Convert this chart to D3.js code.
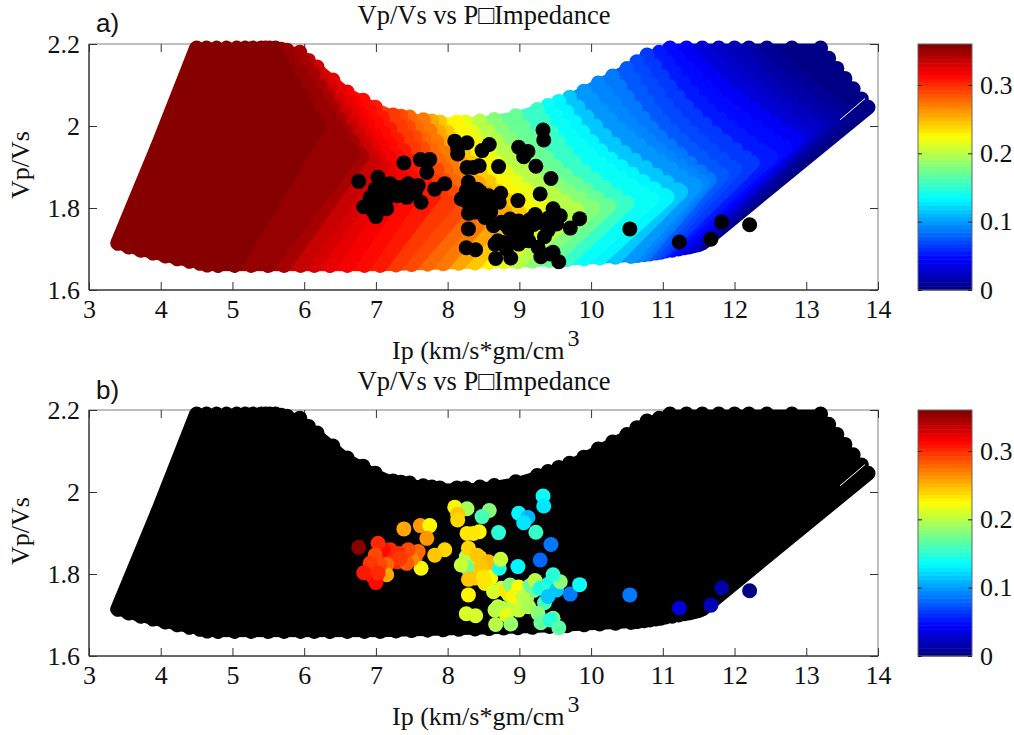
<!DOCTYPE html>
<html>
  <head>
    <meta charset="utf-8">
    <style>
      body { margin: 0; background: #fff; }
      svg { display: block; }
      text { font-family: "Liberation Serif", serif; fill: #111; }
      .domain { display: none; }
      .panel-tag { font-family: "Liberation Sans", sans-serif; }
    </style>
  </head>
  <body>
    <div id="chart"></div>
    <script src="https://d3js.org/d3.v7.min.js"></script>
    <script>
      var width = 1014, height = 735;

      var xTicks = [3, 4, 5, 6, 7, 8, 9, 10, 11, 12, 13, 14];
      var yTicks = [1.6, 1.8, 2, 2.2];
      var yTickLabels = ["1.6", "1.8", "2", "2.2"];
      var barTicks = [0, 0.1, 0.2, 0.3];
      var barTickLabels = ["0", "0.1", "0.2", "0.3"];
      var panelTags = ["a)", "b)"];

      // template cloud, one row per iso-porosity line
      var linePhi = [0, 0.003, 0.008, 0.014, 0.02, 0.026, 0.033, 0.04, 0.047, 0.055, 0.0625, 0.07, 0.0775, 0.085, 0.0925, 0.1, 0.115, 0.13, 0.14, 0.155, 0.17, 0.185, 0.2, 0.215, 0.23, 0.245, 0.258, 0.27, 0.28, 0.289, 0.296, 0.304, 0.311, 0.318, 0.325, 0.331, 0.337, 0.344, 0.349, 0.353, 0.357, 0.36, 0.36, 0.36, 0.36, 0.36, 0.36, 0.36, 0.36, 0.36, 0.36];
      var bottomIp = [11.55, 11.53, 11.5, 11.46, 11.41, 11.36, 11.3, 11.22, 11.13, 11.04, 10.97, 10.9, 10.82, 10.74, 10.65, 10.56, 10.34, 10.12, 9.9, 9.66, 9.42, 9.18, 8.98, 8.78, 8.58, 8.38, 8.16, 7.94, 7.72, 7.5, 7.28, 7.06, 6.84, 6.6, 6.36, 6.14, 5.95, 5.72, 5.5, 5.26, 5.03, 4.8, 4.65, 4.55, 4.4, 4.23, 4.06, 3.89, 3.72, 3.55, 3.4];
      var bottomVs = [1.715, 1.713, 1.711, 1.709, 1.707, 1.705, 1.703, 1.7, 1.697, 1.695, 1.692, 1.69, 1.688, 1.686, 1.684, 1.682, 1.68, 1.678, 1.676, 1.674, 1.672, 1.67, 1.669, 1.668, 1.667, 1.666, 1.665, 1.664, 1.663, 1.662, 1.661, 1.66, 1.66, 1.66, 1.66, 1.66, 1.66, 1.66, 1.66, 1.66, 1.66, 1.66, 1.661, 1.665, 1.67, 1.676, 1.683, 1.69, 1.697, 1.705, 1.714];
      var kneeIp = [13.86, 13.72, 13.55, 13.38, 13.23, 13.12, 13, 12.87, 12.7, 12.5, 12.25, 12, 11.82, 11.65, 11.55, 11.45, 11.25, 11.06, 10.85, 10.5, 10.25, 10.03, 9.8, 9.45, 9.2, 9, 8.8, 8.58, 8.38, 8.2, 8, 7.8, 7.58, 7.4, 7.2, 7.07, 6.95, 6.8, 6.68, 6.45, 6.2, 5.98, 5.7, 5.45, 5.2, 4.95, 4.75, 4.55, 4.35, 4.15, 3.96];
      var kneeVs = [2.046, 2.04, 2.03, 2.02, 2.007, 1.995, 1.98, 1.968, 1.948, 1.925, 1.91, 1.895, 1.882, 1.87, 1.862, 1.855, 1.84, 1.827, 1.822, 1.812, 1.805, 1.8, 1.795, 1.792, 1.79, 1.79, 1.79, 1.792, 1.797, 1.803, 1.812, 1.83, 1.85, 1.865, 1.885, 1.895, 1.91, 1.925, 1.934, 1.965, 2, 2.02, 2.01, 2, 1.985, 1.97, 1.96, 1.955, 1.95, 1.95, 1.95];
      var midIp = [13.53, 13.2, 12.97, 12.75, 12.53, 12.37, 12.2, 12.01, 11.8, 11.58, 11.38, 11.16, 10.99, 10.83, 10.67, 10.52, 10.32, 10.12, 9.95, 9.75, 9.48, 9.24, 9.04, 8.78, 8.62, 8.4, 8.25, 8.09, 7.91, 7.78, 7.62, 7.4, 7.2, 7, 6.8, 6.63, 6.5, 6.37, 6.22, 6.07, 5.9, 5.75, 5.58, 5.42, 5.25, 5.06, 4.9, 4.73, 4.56, 4.4, 4.23];
      var midVs = [2.118, 2.118, 2.113, 2.103, 2.098, 2.088, 2.08, 2.074, 2.063, 2.05, 2.038, 2.028, 2.013, 1.998, 1.986, 1.974, 1.956, 1.942, 1.935, 1.915, 1.905, 1.9, 1.896, 1.895, 1.895, 1.897, 1.898, 1.9, 1.908, 1.913, 1.92, 1.938, 1.956, 1.974, 1.998, 2.02, 2.035, 2.052, 2.06, 2.076, 2.095, 2.105, 2.1, 2.095, 2.088, 2.08, 2.075, 2.072, 2.07, 2.07, 2.07];
      var topIp = [13.2, 12.8, 12.45, 12.2, 12, 11.78, 11.55, 11.33, 11.1, 10.95, 10.78, 10.64, 10.5, 10.3, 10.1, 9.9, 9.7, 9.55, 9.4, 9.25, 8.95, 8.65, 8.45, 8.25, 8.13, 7.89, 7.78, 7.66, 7.47, 7.35, 7.24, 6.99, 6.82, 6.6, 6.4, 6.18, 6.06, 5.94, 5.76, 5.68, 5.6, 5.52, 5.46, 5.4, 5.29, 5.18, 5.06, 4.92, 4.78, 4.64, 4.5];
      var topVs = [2.19, 2.19, 2.19, 2.19, 2.19, 2.19, 2.19, 2.19, 2.19, 2.18, 2.173, 2.157, 2.14, 2.122, 2.105, 2.085, 2.07, 2.06, 2.05, 2.04, 2.025, 2.016, 2.012, 2.01, 2.01, 2.01, 2.012, 2.015, 2.022, 2.024, 2.027, 2.046, 2.063, 2.083, 2.112, 2.144, 2.16, 2.18, 2.185, 2.187, 2.19, 2.19, 2.19, 2.19, 2.19, 2.19, 2.19, 2.19, 2.19, 2.19, 2.19];

      // thin white slit near the right tip of the cloud
      var slitIp = [13.47, 13.82];
      var slitVs = [2.015, 2.067];

      // well log samples
      var wellIp = [7.05, 7.12, 7.22, 7.3, 7.38, 7, 7.1, 6.95, 7.55, 7.25, 8.3, 8.4, 8.45, 8.35, 8.55, 8.6, 8.75, 8.85, 9, 9.1, 8.7, 8.9, 9.05, 9.4, 9.5, 9.2, 9.35, 6.76, 7.39, 7.62, 7.75, 7.71, 7.96, 7.82, 7.63, 7.59, 7.5, 7.43, 7.45, 7.31, 7.2, 7.1, 7.03, 6.99, 7.15, 7.15, 7.06, 6.92, 6.83, 7, 7.03, 7.34, 8.1, 8.27, 8.14, 8.14, 8.58, 8.48, 8.27, 8.44, 8.36, 8.26, 8.27, 8.19, 8.29, 8.41, 8.57, 8.47, 8.72, 8.74, 8.71, 8.29, 8.38, 8.5, 8.52, 8.64, 8.29, 8.81, 8.87, 8.99, 8.92, 9.05, 9.15, 9.22, 9.29, 9.38, 9.4, 9.52, 9.71, 9.84, 9.57, 9.47, 8.98, 9.29, 9.44, 9.23, 8.99, 9.12, 9.06, 9.33, 9.34, 8.26, 8.39, 8.66, 8.78, 8.82, 8.67, 8.88, 8.99, 9.13, 9.26, 9.3, 9.47, 9.43, 9.55, 10.54, 11.23, 11.67, 11.82, 12.21];
      var wellVs = [1.845, 1.84, 1.835, 1.83, 1.85, 1.815, 1.81, 1.795, 1.84, 1.845, 1.81, 1.795, 1.84, 1.83, 1.81, 1.79, 1.765, 1.75, 1.75, 1.74, 1.72, 1.72, 1.72, 1.775, 1.775, 1.76, 1.73, 1.865, 1.91, 1.918, 1.918, 1.887, 1.859, 1.846, 1.814, 1.855, 1.836, 1.826, 1.859, 1.85, 1.859, 1.859, 1.875, 1.846, 1.822, 1.798, 1.822, 1.826, 1.803, 1.779, 1.802, 1.838, 1.963, 1.959, 1.946, 1.932, 1.955, 1.94, 1.899, 1.903, 1.899, 1.842, 1.816, 1.822, 1.863, 1.846, 1.83, 1.818, 1.814, 1.836, 1.901, 1.787, 1.79, 1.792, 1.777, 1.757, 1.749, 1.759, 1.773, 1.768, 1.745, 1.743, 1.772, 1.784, 1.765, 1.761, 1.745, 1.761, 1.751, 1.774, 1.781, 1.798, 1.818, 1.834, 1.872, 1.902, 1.948, 1.938, 1.925, 1.99, 1.966, 1.703, 1.698, 1.712, 1.716, 1.7, 1.677, 1.678, 1.712, 1.72, 1.704, 1.681, 1.692, 1.688, 1.669, 1.749, 1.717, 1.724, 1.766, 1.759];
      var wellPhi = [0.3, 0.295, 0.29, 0.3, 0.3, 0.305, 0.295, 0.305, 0.285, 0.29, 0.24, 0.24, 0.24, 0.235, 0.24, 0.22, 0.21, 0.2, 0.2, 0.195, 0.205, 0.2, 0.2, 0.14, 0.13, 0.17, 0.16, 0.36, 0.255, 0.26, 0.23, 0.26, 0.24, 0.245, 0.225, 0.28, 0.265, 0.285, 0.29, 0.3, 0.3, 0.31, 0.3, 0.29, 0.28, 0.255, 0.29, 0.295, 0.305, 0.31, 0.3, 0.295, 0.23, 0.195, 0.245, 0.24, 0.185, 0.16, 0.235, 0.23, 0.235, 0.2, 0.17, 0.205, 0.24, 0.245, 0.25, 0.245, 0.145, 0.205, 0.15, 0.245, 0.245, 0.235, 0.235, 0.21, 0.225, 0.235, 0.185, 0.22, 0.225, 0.2, 0.17, 0.2, 0.145, 0.15, 0.115, 0.115, 0.085, 0.135, 0.18, 0.15, 0.13, 0.08, 0.085, 0.155, 0.13, 0.11, 0.125, 0.135, 0.125, 0.21, 0.21, 0.2, 0.2, 0.215, 0.2, 0.19, 0.205, 0.195, 0.18, 0.17, 0.17, 0.15, 0.165, 0.085, 0.03, 0.02, 0.012, 0.005];

      // MATLAB jet with 64 levels
      function jetLevel(t) {
        var c = function (v) { return Math.round(255 * Math.max(0, Math.min(1, v))); };
        return d3.rgb(c(1.5 - Math.abs(4 * t - 3)), c(1.5 - Math.abs(4 * t - 2)), c(1.5 - Math.abs(4 * t - 1))).formatHex();
      }
      var jet = d3.range(64).map(function (i) { return jetLevel((i + 0.5) / 64); });
      var color = d3.scaleQuantize().domain([0, 0.36]).range(jet);

      var x = d3.scaleLinear().domain([3, 14]).range([89, 878]);

      var svg = d3.select("#chart").append("svg").attr("width", width).attr("height", height);

      var panels = [
        { top: 44, bottom: 290, tagY: 32, titleY: 24, labelY: 359, cloud: null, dots: "black" },
        { top: 410, bottom: 656, tagY: 399, titleY: 390, labelY: 725, cloud: "black", dots: null }
      ];

      var cloudRows = d3.range(linePhi.length).map(function (i) {
        return {
          phi: linePhi[i],
          lower: [[bottomIp[i], bottomVs[i]], [kneeIp[i], kneeVs[i]]],
          upper: [[topIp[i], topVs[i]], [midIp[i], midVs[i]], [kneeIp[i], kneeVs[i]]]
        };
      });

      panels.forEach(function (p, k) {
        var y = d3.scaleLinear().domain([1.6, 2.2]).range([p.bottom, p.top]);
        var g = svg.append("g");

        g.append("rect").attr("x", 89).attr("y", p.top).attr("width", 789).attr("height", p.bottom - p.top)
          .attr("fill", "none").attr("stroke", "#808080").attr("stroke-width", 1);
        g.append("line").attr("x1", 89).attr("x2", 89).attr("y1", p.top).attr("y2", p.bottom).attr("stroke", "#111");
        g.append("line").attr("x1", 89).attr("x2", 878).attr("y1", p.bottom).attr("y2", p.bottom).attr("stroke", "#111");

        var axisX = g.append("g").attr("transform", "translate(0," + p.bottom + ")")
          .call(d3.axisBottom(x).tickValues(xTicks).tickSize(-8).tickPadding(10).tickFormat(d3.format("d")));
        g.append("g").attr("transform", "translate(0," + p.top + ")")
          .call(d3.axisTop(x).tickValues(xTicks).tickSize(-8).tickFormat(""));
        var axisY = g.append("g").attr("transform", "translate(89,0)")
          .call(d3.axisLeft(y).tickValues(yTicks).tickSize(-8).tickPadding(9).tickFormat(function (d, i) { return yTickLabels[i]; }));
        g.append("g").attr("transform", "translate(878,0)")
          .call(d3.axisRight(y).tickValues(yTicks).tickSize(-8).tickFormat(""));
        g.selectAll(".tick line").attr("stroke", "#333");
        axisX.selectAll("text").attr("font-size", 26).attr("font-family", "Liberation Serif").attr("fill", "#111");
        axisY.selectAll("text").attr("font-size", 26).attr("font-family", "Liberation Serif").attr("fill", "#111");

        var line = d3.line().x(function (d) { return x(d[0]); }).y(function (d) { return y(d[1]); });
        var curve = d3.line().x(function (d) { return x(d[0]); }).y(function (d) { return y(d[1]); }).curve(d3.curveCatmullRom);

        // low porosity first, each line covers the one before it
        var cloud = g.append("g").attr("fill", "none").attr("stroke-width", 15).attr("stroke-linecap", "round").attr("stroke-linejoin", "round");
        cloudRows.forEach(function (r, i) {
          var c = p.cloud || color(r.phi);
          var next = cloudRows[i + 1];
          cloud.append("path").attr("d", line(r.lower)).attr("stroke", c);
          var upper = cloud.append("path").attr("d", curve(r.upper)).attr("stroke", c);
          // dark lines on the left are smooth, the others keep the round dots
          if (r.phi < 0.36) upper.attr("stroke-dasharray", "0 13");
          if (next) {
            // close the seam to the next line and flatten the outline between the dots
            var seam = r.lower.concat(r.upper.slice().reverse()).concat(next.upper).concat(next.lower.slice().reverse());
            cloud.append("path").attr("d", line(seam) + "Z").attr("fill", c).attr("stroke", "none");
            cloud.append("path").attr("d", line([r.lower[0], next.lower[0]])).attr("stroke", c).attr("stroke-width", 11.5).attr("stroke-linecap", "butt");
            cloud.append("path").attr("d", line([r.upper[0], next.upper[0]])).attr("stroke", c).attr("stroke-width", 9).attr("stroke-linecap", "butt");
          }
        });

        g.append("line")
          .attr("x1", x(slitIp[0])).attr("y1", y(slitVs[0]))
          .attr("x2", x(slitIp[1])).attr("y2", y(slitVs[1]))
          .attr("stroke", "#fff").attr("stroke-width", 1);

        g.append("g").selectAll("circle").data(wellIp).enter().append("circle")
          .attr("cx", function (d) { return x(d); })
          .attr("cy", function (d, i) { return y(wellVs[i]); })
          .attr("r", 7.5)
          .attr("fill", function (d, i) { return p.dots || color(wellPhi[i]); });

        g.append("text").attr("x", 484).attr("y", p.titleY).attr("text-anchor", "middle").attr("font-size", 26.5)
          .text("Vp/Vs vs P\u25A1Impedance");

        var xl = g.append("text").attr("x", 392).attr("y", p.labelY).attr("font-size", 26);
        xl.append("tspan").text("Ip (km/s*gm/cm");
        xl.append("tspan").attr("dx", 3).attr("dy", -13).attr("font-size", 24).text("3");

        g.append("text").attr("transform", "translate(29," + (p.top + 121) + ") rotate(-90)")
          .attr("text-anchor", "middle").attr("font-size", 26).text("Vp/Vs");

        g.append("text").attr("class", "panel-tag").attr("x", 96).attr("y", p.tagY).attr("font-size", 26).text(panelTags[k]);

        // colour bar
        var barY = d3.scaleLinear().domain([0, 0.36]).range([p.bottom, p.top]);
        var bar = g.append("g");
        bar.selectAll("rect").data(jet).enter().append("rect")
          .attr("x", 918).attr("width", 54)
          .attr("y", function (d, i) { return barY((i + 1) * 0.36 / 64); })
          .attr("height", function () { return barY(0) - barY(0.36 / 64) + 0.5; })
          .attr("fill", function (d) { return d; });
        bar.append("rect").attr("x", 918).attr("y", p.top).attr("width", 54).attr("height", p.bottom - p.top)
          .attr("fill", "none").attr("stroke", "#666");
        var axisBar = bar.append("g").attr("transform", "translate(972,0)")
          .call(d3.axisRight(barY).tickValues(barTicks).tickSize(-4).tickPadding(8).tickFormat(function (d, i) { return barTickLabels[i]; }));
        bar.append("g").attr("transform", "translate(918,0)")
          .call(d3.axisLeft(barY).tickValues(barTicks).tickSize(-4).tickFormat(""));
        bar.selectAll(".tick line").attr("stroke", "#222");
        axisBar.selectAll("text").attr("font-size", 26).attr("font-family", "Liberation Serif").attr("fill", "#111");
      });
    </script>
  </body>
</html>
